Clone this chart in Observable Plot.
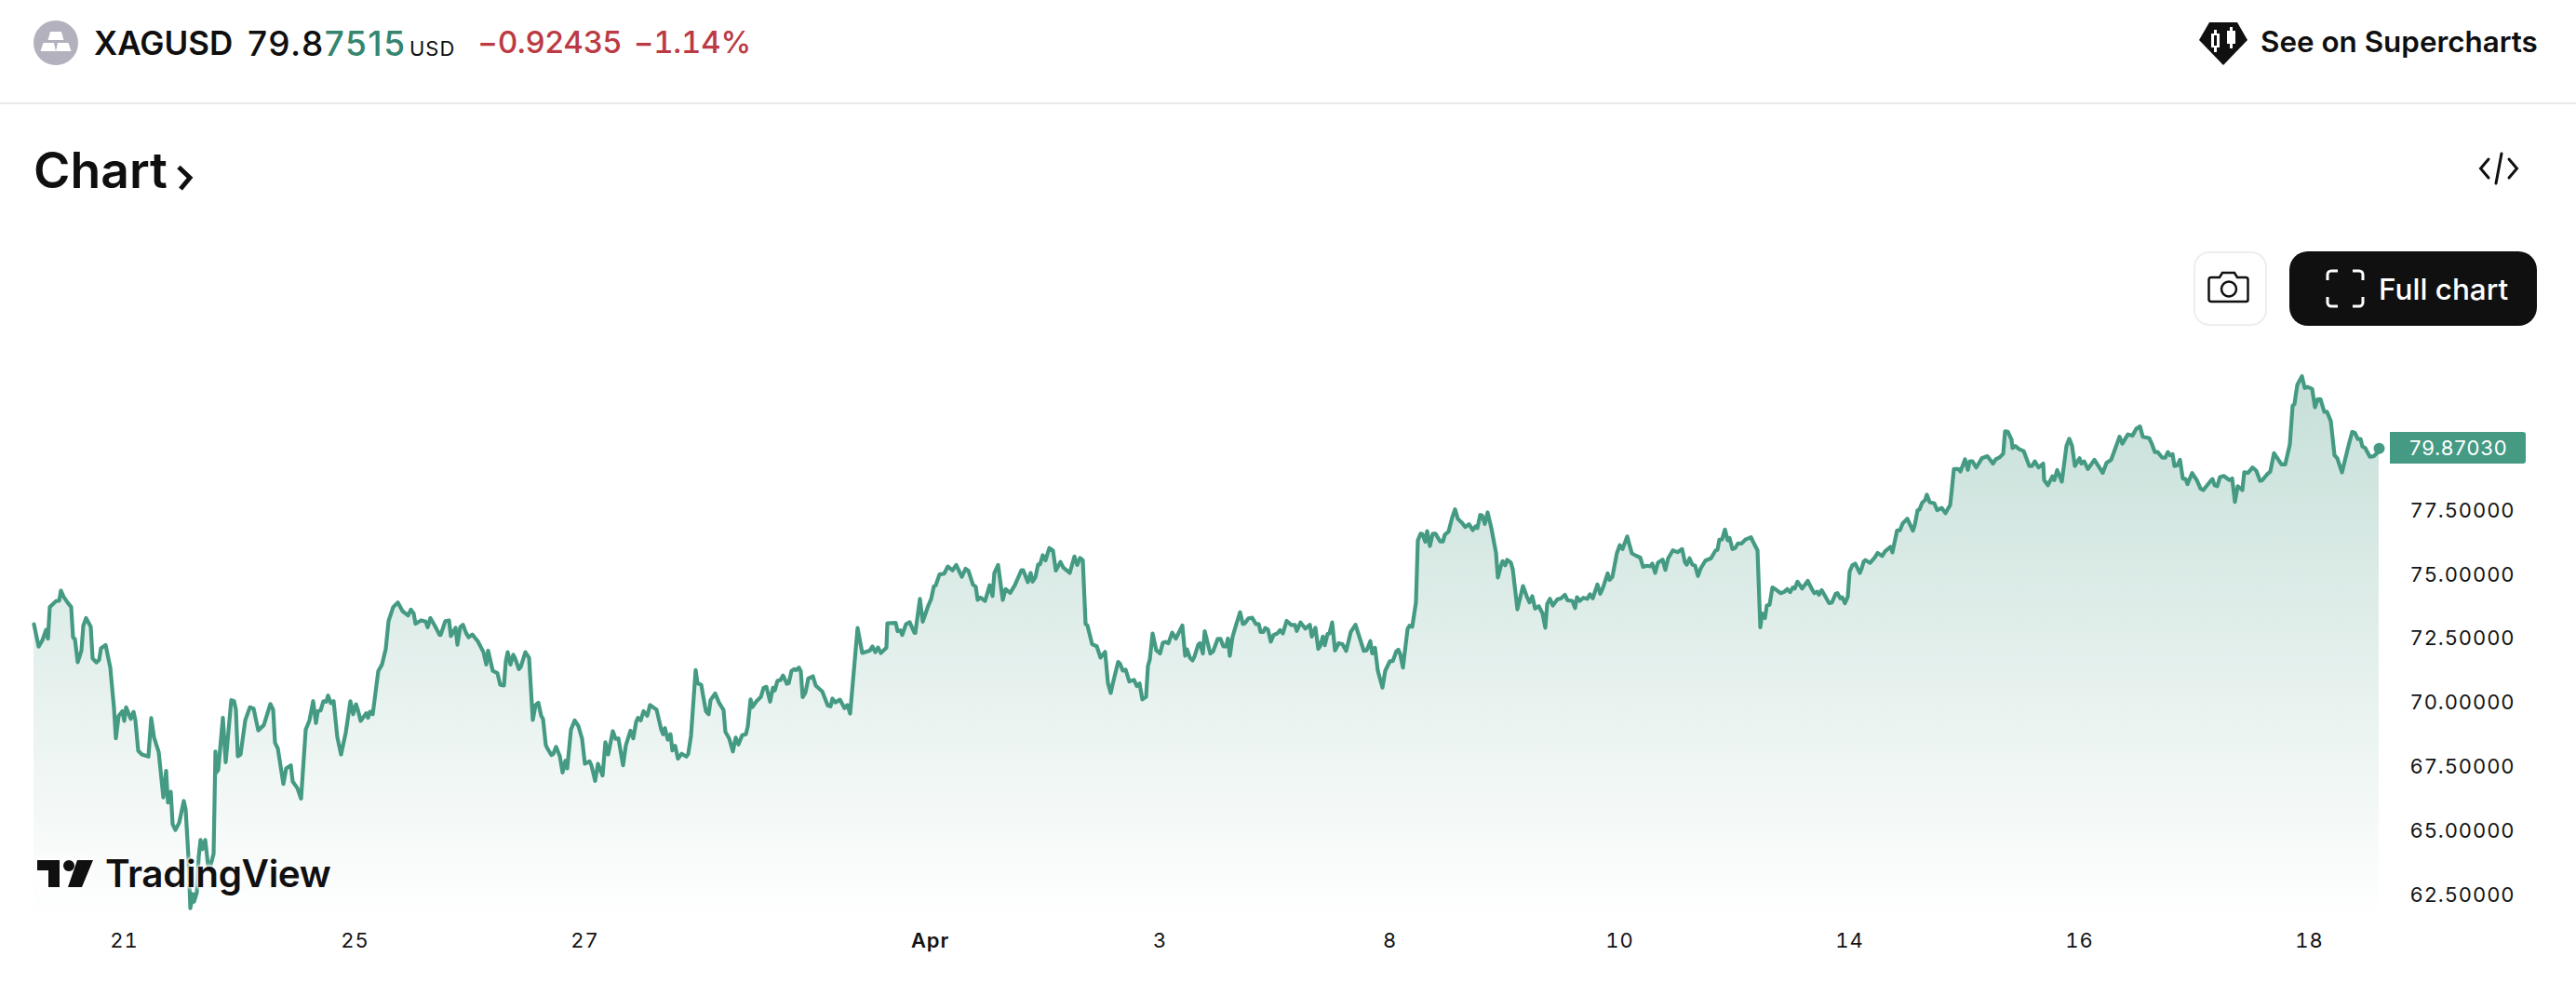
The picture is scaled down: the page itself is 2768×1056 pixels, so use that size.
<!DOCTYPE html>
<html><head><meta charset="utf-8">
<script src="https://cdn.jsdelivr.net/npm/d3@7"></script>
<script src="https://cdn.jsdelivr.net/npm/@observablehq/plot@0.6"></script>
<style>
html,body{margin:0;padding:0;background:#fff;}
body{position:relative;width:2768px;height:1056px;overflow:hidden;font-family:Inter,"Noto Sans",sans-serif;color:#0f0f0f;}
.abs{position:absolute;white-space:nowrap;line-height:1;}
#chart{position:absolute;left:0;top:0;}
#chart svg{display:block;}
</style></head><body>
<div id="chart"></div>

<svg class="abs" style="left:36px;top:22px" width="48" height="48" viewBox="0 0 48 48">
<circle cx="24" cy="24" r="24" fill="#b2b1bd"/>
<path d="M18 12h12l2.500 9H15.500z M10.500 24h11.500l2 9H7.500z M26 24h11.500l3 9H24z" fill="#fff"/>
</svg>
<div class="abs" style="left:101px;top:29px;font-size:35px;font-weight:600;">XAGUSD</div>
<div class="abs" style="left:266px;top:28px;font-size:37px;font-weight:500;letter-spacing:1.5px;">79.8<span style="color:#35856f">7515</span></div>
<div class="abs" style="left:440px;top:41px;font-size:22px;letter-spacing:1px;">USD</div>
<div class="abs" style="left:513px;top:29px;font-size:33px;font-weight:500;color:#bb3a44;letter-spacing:-.1px">−0.92435</div>
<div class="abs" style="left:681px;top:29px;font-size:33px;font-weight:500;color:#bb3a44;letter-spacing:-.2px;font-feature-settings:'tnum'">−1.14%</div>

<svg class="abs" style="left:2363px;top:24px" width="52" height="46" viewBox="0 0 52 46">
<path d="M11 0H41L52 19 26 46 0 19z" fill="#101010"/>
<path d="M16 8h3v4h3v15h-3v5h-3v-5h-3V12h3z M33 5h3v4h3v14h-3v5h-3v-5h-3V9h3z" fill="#fff"/>
<rect x="16" y="14" width="3" height="11" fill="#101010"/>
</svg>
<div class="abs" style="left:2429px;top:30px;font-size:31.400px;font-weight:600;">See on Supercharts</div>

<div style="position:absolute;left:0;top:110px;width:2768px;height:2px;background:#e9e9e9"></div>

<div class="abs" style="left:36px;top:156px;font-size:53.500px;font-weight:600;">Chart</div>
<svg class="abs" style="left:188px;top:176px" width="22" height="30" viewBox="0 0 22 30"><path d="M4 3.500 16 15 6 27" fill="none" stroke="#0f0f0f" stroke-width="5"/></svg>

<svg class="abs" style="left:2663px;top:163px" width="44" height="36" viewBox="0 0 44 36">
<path d="M11 8 2.500 18 11 28M33 8l8.500 10L33 28M25 2 19 34" fill="none" stroke="#101010" stroke-width="3" stroke-linecap="round"/></svg>

<div style="position:absolute;left:2357px;top:270px;width:75px;height:76px;border:2px solid #eeeeee;border-radius:17px;"></div>
<svg class="abs" style="left:2372px;top:290px" width="46" height="38" viewBox="0 0 46 38">
<path d="M4 8h9l3-5h13l3 5h9a2.500 2.500 0 0 1 2.500 2.500V32a2 2 0 0 1-2 2H4a2.500 2.500 0 0 1-2.500-2V10.500A2.500 2.500 0 0 1 4 8z" fill="none" stroke="#101010" stroke-width="2.500"/>
<circle cx="23" cy="20.500" r="8" fill="none" stroke="#101010" stroke-width="2.500"/></svg>

<div style="position:absolute;left:2460px;top:270px;width:266px;height:80px;background:#101010;border-radius:20px;"></div>
<svg class="abs" style="left:2499px;top:289px" width="42" height="42" viewBox="0 0 42 42">
<path d="M2 12V6a4 4 0 0 1 4-4h7M29 2h7a4 4 0 0 1 4 4v6M40 30v6a4 4 0 0 1-4 4h-7M13 40H6a4 4 0 0 1-4-4v-6" fill="none" stroke="#fff" stroke-width="3"/></svg>
<div class="abs" style="left:2556px;top:295px;font-size:31.500px;font-weight:500;color:#fff;">Full chart</div>

<div class="abs" id="badge" style="left:2568px;width:146px;height:34px;background:#459a83;border-radius:0 3px 3px 0;color:#fff;font-size:22px;letter-spacing:.9px;line-height:34px;"><span style="position:absolute;left:21px">79.87030</span></div>

<svg class="abs" style="left:40px;top:924px;overflow:visible" width="60" height="30" viewBox="0 0 60 30">
<path d="M-4 -4h68l-12 38H-4z" fill="#fff" fill-opacity=".75" filter="blur(4px)"/>
<path d="M0 0H24V29H12V11H0z M43 0H60L48 29H33z" fill="#101010"/><circle cx="34" cy="6" r="6" fill="#101010"/></svg>
<div class="abs" style="left:113px;top:919px;font-size:40.500px;font-weight:600;letter-spacing:-.4px;color:#101010;-webkit-text-stroke:0;text-shadow:0 0 3px #fff,0 0 3px #fff,0 0 5px #fff,0 0 5px #fff;">TradingView</div>

<script>
// Sample positions (bar number along the trading-time axis) and silver price.
const barsA = [0,5,9,13,15,17,24,27,29,32,36,40,42,44,47,51,53,56,61,63,67,70,72,77,82,86,88,91,95,97,99,104,107,109,112,116,123,126,129,134,139,142,144,147,149,152,156,161,163,166,168,171,172,175,177,179,181,184,187,190,193,195,196,198,203,206,212,215,217,219,222,227,232,236,241,247,254,257,259,262,268,271,276,278,283,287,292,296,300,303,305,308,311,314,316,319,322,326,330,335,340,343,346,348,351,357,359,361,364,370,374,378,381,386,391,396,402,405,408,410,416,421,423,426,431,436,437,442,446,448,453,455,458,461,464];
const pricesA = [73.02,72.15,72.39,72.80,72.46,73.69,73.93,73.93,74.33,74.08,73.87,73.69,72.51,72.44,71.54,71.99,72.96,73.26,72.92,71.69,71.53,71.63,72.08,72.21,71.33,69.75,68.57,69.45,69.63,69.25,69.78,69.33,69.60,69.27,68.09,67.94,67.86,69.36,68.61,68.04,66.27,67.30,66.07,66.49,65.22,65.00,65.28,66.13,65.79,63.95,61.95,62.50,62.20,62.56,63.95,64.61,64.25,64.61,63.65,63.65,64.07,68.06,67.24,67.34,69.37,67.64,70.06,70.02,69.69,67.87,67.94,69.27,69.78,69.73,68.88,69.09,69.91,69.69,68.40,68.18,66.79,67.40,67.52,66.89,66.63,66.22,68.91,69.27,70.02,69.17,69.63,69.66,70.02,70.00,70.24,69.94,70.02,68.61,67.94,68.79,70.02,69.51,69.90,69.69,69.25,69.55,69.37,69.61,69.51,71.20,71.45,72.05,73.14,73.69,73.87,73.53,73.36,73.59,73.44,73.04,73.17,73.12,72.90,73.26,72.94,72.60,72.60,73.14,73.17,72.56,72.88,72.22,72.90,73.00,72.70];

const barsB = [467,471,477,483,486,488,493,498,501,505,507,509,512,515,517,521,523,528,532,536,539,542,545,547,550,552,556,558,561,565,568,571,573,577,581,585,589,592,597,599,603,606,611,614,617,622,625,628,633,636,641,644,647,649,652,655,659,662,669,674,676,678,681,684,686,689,692,696,701,703,706,711,713,717,719,722,725,727,732,736,741,743,747,751,754,757,761,765,767,770,772,776,781,784,787,791,794,796,799,802,805,809,811,814,817,819,822,824,826,829,832,837,840,847,853,856,858,861,866,871,874,877,885,890,898,901,904,907,910,916,917,926,928,931,933,937,941,946,947,952,955,961,964];
const pricesB = [72.51,72.62,72.35,71.93,71.45,71.99,71.20,71.11,70.66,70.63,71.57,71.93,71.45,71.83,71.69,71.27,71.35,71.93,71.71,69.29,69.87,69.96,69.45,69.33,68.30,68.16,67.92,67.96,68.24,67.88,67.24,67.70,67.40,68.91,69.27,69.05,68.55,67.58,67.67,67.52,66.91,67.58,67.12,68.42,67.94,68.85,68.55,68.57,67.52,68.30,68.87,68.57,69.21,69.37,69.27,69.63,69.45,69.87,69.69,68.91,68.73,68.97,68.52,68.73,68.10,68.28,67.78,67.97,67.86,67.96,68.67,71.23,70.72,70.66,70.24,69.63,69.51,70.06,70.32,69.97,69.67,68.82,68.57,68.06,68.60,68.33,68.69,68.73,69.03,70.09,69.79,70.00,70.18,70.54,70.58,70.00,70.54,70.44,70.82,70.84,71.02,70.70,70.72,71.20,71.27,71.23,71.33,71.18,70.18,70.36,70.90,70.99,70.63,70.40,69.85,69.82,70.12,69.97,70.08,69.75,69.87,69.54,72.87,71.90,71.99,72.15,71.93,72.11,71.90,72.11,73.06,73.07,72.75,72.78,72.60,73.02,73.10,72.69,72.68,74.01,73.12,73.75,74.00];

const barsC = [967,969,973,978,982,987,991,997,1001,1004,1009,1012,1014,1017,1022,1027,1030,1032,1036,1041,1044,1049,1054,1061,1063,1068,1071,1073,1076,1079,1081,1084,1087,1091,1095,1098,1103,1106,1113,1118,1121,1124,1127,1130,1132,1137,1142,1146,1151,1154,1157,1159,1165,1167,1170,1173,1177,1182,1185,1188,1191,1195,1197,1199,1202,1206,1210,1213,1216,1219,1223,1227,1234,1237,1239,1242,1245,1247,1251,1253,1256,1258,1264,1267,1272,1275,1278,1281,1283,1285,1288,1292,1296,1299,1301,1305,1309,1313,1316,1318,1321,1323,1326,1329,1332,1336,1339,1342,1346,1351,1355,1357,1361,1366,1371,1373,1377,1380,1382,1385,1387,1390,1392,1395,1398,1402,1406,1410,1415,1420,1429,1432,1436,1438,1441,1444,1449,1452,1457,1460,1464];
const pricesC = [74.50,74.54,74.96,74.99,75.27,75.12,75.33,74.87,75.18,75.11,74.56,74.48,73.97,74.06,73.93,74.54,74.12,75.02,75.33,73.97,74.39,74.24,74.54,75.12,75.12,74.66,75.02,74.68,74.84,75.35,75.35,75.71,75.51,75.99,75.89,75.11,75.45,75.23,75.02,75.66,75.33,75.60,75.51,73.03,72.97,72.24,72.16,71.72,71.94,70.73,70.34,70.67,71.55,71.48,71.21,71.25,70.79,70.85,70.61,70.71,70.09,70.19,71.39,71.64,72.66,72.00,71.88,72.30,72.33,72.28,72.69,72.46,72.97,71.79,72.04,71.72,71.61,71.76,72.22,72.28,71.88,72.75,71.88,71.96,72.45,72.45,72.16,72.16,72.46,71.79,72.54,73.03,73.49,73.03,73.05,73.25,73.27,73.03,73.03,72.72,72.72,72.87,72.81,72.34,72.60,72.66,72.79,72.66,73.15,72.99,72.99,72.76,73.09,72.85,73.00,72.54,72.88,72.06,72.16,72.54,72.20,72.64,72.66,73.09,72.00,72.28,72.24,71.98,72.72,73.00,71.98,72.00,72.36,71.88,72.10,71.21,70.55,71.21,71.58,71.58,71.97];

const barsD = [1466,1468,1471,1476,1478,1481,1485,1487,1490,1492,1495,1497,1500,1503,1506,1511,1514,1516,1520,1524,1527,1530,1534,1538,1542,1546,1549,1551,1554,1556,1559,1562,1566,1571,1573,1576,1578,1581,1583,1587,1589,1594,1600,1604,1607,1610,1613,1617,1621,1624,1626,1629,1632,1637,1641,1645,1648,1653,1656,1658,1661,1665,1669,1672,1675,1680,1683,1686,1691,1693,1696,1701,1704,1707,1712,1717,1722,1726,1729,1733,1737,1739,1742,1745,1750,1753,1756,1761,1766,1771,1774,1776,1779,1782,1785,1788,1791,1796,1802,1807,1809,1811,1814,1817,1820,1822,1825,1828,1831,1835,1839,1845,1847,1852,1855,1857,1860,1862,1865,1868,1871,1877,1881,1884,1887,1890,1892,1895,1900,1906,1911,1913,1916,1918,1921,1929,1932,1936,1938,1941,1943,1946,1949,1951,1954,1957,1962,1964];
const pricesD = [72.03,71.87,71.33,72.84,72.96,72.92,73.87,76.29,76.55,76.53,76.23,76.65,76.07,76.55,76.55,76.25,76.25,76.51,76.63,77.19,77.50,77.13,76.99,76.81,76.92,76.69,76.83,76.77,77.28,77.26,76.93,77.38,76.77,75.80,74.84,75.26,75.48,75.32,75.53,75.42,75.16,73.60,74.51,74.11,73.87,74.11,73.63,73.72,73.44,72.88,73.81,74.01,73.75,73.99,74.03,74.17,73.95,73.93,73.65,74.07,73.93,74.05,74.01,74.19,74.03,74.57,74.21,74.45,75.00,74.75,74.86,75.80,76.10,75.95,76.44,75.78,75.68,75.62,75.26,75.30,75.28,75.38,75.02,75.42,75.54,75.14,75.59,75.90,75.83,75.95,75.44,75.34,75.59,75.34,75.30,74.90,75.20,75.50,75.59,75.90,75.92,76.31,76.33,76.71,76.29,76.38,75.95,75.99,76.17,76.17,76.32,76.41,76.25,75.90,72.90,73.44,73.26,73.75,73.78,74.45,74.39,74.23,74.29,74.39,74.27,74.45,74.41,74.68,74.41,74.71,74.35,74.23,74.29,74.17,74.35,73.84,73.87,74.21,74.23,74.03,74.07,73.84,74.09,75.08,75.32,75.38,75.02,75.20];

const barsE = [1966,1968,1973,1978,1981,1986,1989,1995,1997,2002,2005,2008,2013,2019,2021,2024,2026,2029,2032,2034,2037,2042,2045,2050,2054,2059,2061,2063,2068,2070,2075,2078,2080,2083,2087,2093,2099,2105,2108,2112,2116,2118,2121,2125,2126,2129,2133,2138,2144,2147,2150,2154,2159,2160,2164,2169,2171,2174,2179,2184,2187,2190,2193,2198,2200,2203,2207,2214,2223,2227,2232,2235,2241,2244,2250,2255,2259,2263,2266,2273,2276,2279,2282,2287,2290,2293,2295,2298,2300,2303,2306,2309,2312,2314,2319,2324,2328,2331,2339,2341,2343,2346,2349,2353,2359,2362,2365,2368,2373,2375,2379,2384,2388,2392,2394,2400,2403,2407,2415,2419,2424,2427,2429,2432,2437,2440,2443,2448,2451,2454,2457,2461,2464,2468,2472,2475,2480,2487,2491,2494,2497,2500,2502,2505,2510,2514,2519,2520];
const pricesE = [75.46,75.52,75.41,75.62,75.80,75.68,75.86,76.04,75.82,76.68,76.68,76.95,77.13,76.67,76.89,77.46,77.49,77.76,77.86,78.07,77.78,77.73,77.47,77.55,77.35,77.67,78.34,79.07,79.07,78.97,79.45,79.04,79.37,79.37,79.13,79.49,79.57,79.28,79.45,79.52,79.67,80.54,80.52,80.21,79.89,79.97,79.85,79.77,79.19,79.19,79.37,79.13,79.28,78.64,78.44,78.79,78.64,79.03,78.58,79.97,80.25,79.97,79.19,79.49,79.28,79.37,79.07,79.43,78.92,79.31,79.43,79.73,80.33,80.06,80.42,80.37,80.64,80.73,80.33,80.27,80.03,79.73,79.73,79.51,79.51,79.73,79.61,79.65,79.19,79.21,79.43,78.70,78.68,78.48,78.91,78.64,78.31,78.25,78.61,78.68,78.44,78.40,78.76,78.80,78.64,78.70,77.79,78.40,78.25,78.94,78.92,79.13,79.00,78.61,78.62,78.88,78.97,79.69,79.25,79.25,80.03,81.54,81.60,82.35,82.69,82.23,82.27,82.19,81.48,81.79,81.79,81.30,81.30,80.94,79.61,79.49,78.94,79.97,80.52,80.48,80.24,80.24,79.95,79.89,79.55,79.57,79.73,79.87];

const tickBars = [97,345,592,963,1210,1457,1704,1951,2198,2445];
const tickLabels = ["21","25","27","Apr","3","8","10","14","16","18"];
const priceTicks = [62.5,65,67.5,70,72.5,75,77.5];
const lastPrice = 79.8703;

const bars = [...barsA,...barsB,...barsC,...barsD,...barsE];
const prices = [...pricesA,...pricesB,...pricesC,...pricesD,...pricesE];
const rows = bars.map((b,i)=>({bar:b,price:prices[i]}));
const labelOf = new Map(tickBars.map((b,i)=>[b,tickLabels[i]]));
const last = rows[rows.length-1];

const lineColor = "#459a83";
const chart = Plot.plot({
  width:2768, height:1056,
  marginLeft:36, marginRight:212, marginTop:370, marginBottom:66,
  style:{background:"transparent",fontFamily:"Inter, 'Noto Sans', sans-serif",color:"#131313",overflow:"visible"},
  x:{type:"linear",domain:[0,2520],axis:null},
  y:{type:"linear",domain:[61.41,83.91],axis:null},
  marks:[
    ()=>{ const s=document.createElementNS("http://www.w3.org/2000/svg","defs");
      s.innerHTML='<linearGradient id="areaFade" x1="0" y1="0" x2="0" y2="1"><stop offset="0" stop-color="#c6dfd8"/><stop offset="1" stop-color="#ffffff"/></linearGradient>';
      return s; },
    Plot.areaY(rows,{x:"bar",y1:61.41,y2:"price",fill:"url(#areaFade)"}),
    Plot.lineY(rows,{x:"bar",y:"price",stroke:lineColor,strokeWidth:4.2,strokeLinejoin:"round",strokeLinecap:"round"}),
    Plot.dot([last],{x:"bar",y:"price",r:6,fill:lineColor}),
    Plot.axisX({anchor:"bottom",ticks:tickBars,tickSize:0,tickPadding:12,tickFormat:d=>labelOf.get(d),label:null,fontSize:22}),
    Plot.axisY({anchor:"right",ticks:priceTicks,tickSize:0,tickPadding:33,dy:1.5,tickFormat:d=>d.toFixed(5),label:null,fontSize:22}),
  ]
});
chart.style.letterSpacing="0.9px";
chart.querySelectorAll('[aria-label="x-axis tick label"] text').forEach(t=>{ if(t.textContent==="Apr") t.setAttribute("font-weight","600"); });
document.getElementById("chart").append(chart);
document.getElementById("badge").style.top=(chart.scale("y").apply(lastPrice)-17)+"px";
</script>
</body></html>
